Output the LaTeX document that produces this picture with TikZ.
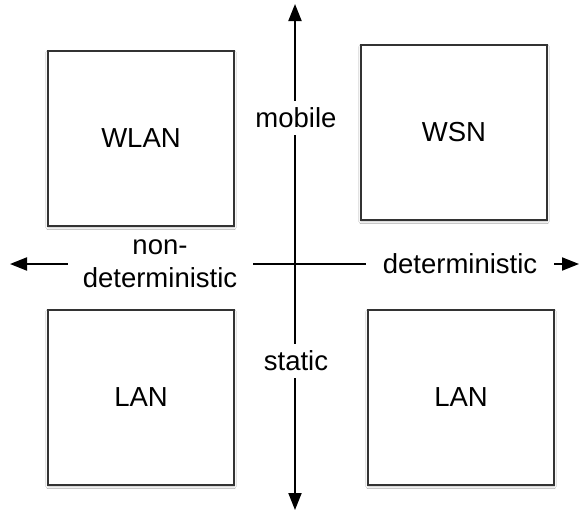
\documentclass[tikz,border=0pt]{standalone}
\usepackage{fontspec}
\setmainfont{Liberation Sans}
\usetikzlibrary{arrows.meta,shadows.blur}
\begin{document}
\begin{tikzpicture}[x=1pt,y=-1pt,
  quad/.style={draw=black!80, line width=2pt, fill=white, minimum width=186pt, minimum height=175pt,
    inner sep=0pt, font=\fontsize{27.5}{32}\selectfont,
    blur shadow={shadow xshift=0pt, shadow yshift=-2pt, shadow blur steps=6, shadow opacity=25}},
  axis/.style={line width=2pt, -{Triangle[length=17pt,width=13pt]}},
  axlabel/.style={fill=white, font=\fontsize{27.5}{33}\selectfont, align=center, inner sep=0pt}]
  \useasboundingbox (0,0) rectangle (580,512);
  \fill[white] (0,0) rectangle (580,512);
  % quadrant boxes
  \node[quad] (wlan) at (141,138) {WLAN};
  \node[quad] (wsn) at (454,132) {WSN};
  \node[quad] (lanl) at (141,397) {LAN};
  \node[quad] (lanr) at (461,397) {LAN};
  % axis ends
  \coordinate (origin) at (295,264);
  \coordinate (top) at (295,4);
  \coordinate (bottom) at (295,510);
  \coordinate (west) at (10,264);
  \coordinate (east) at (579,264);
  \draw[axis] (origin) -- (top);
  \draw[axis] (origin) -- (bottom);
  \draw[axis] (origin) -- (west);
  \draw[axis] (origin) -- (east);
  % axis labels
  \node[axlabel, minimum height=34pt, minimum width=86pt] (mobile) at (296,118) {mobile};
  \node[axlabel, minimum height=34pt, minimum width=72pt] (static) at (296,361) {static};
  \node[axlabel, minimum width=185pt, minimum height=62pt] (nondet) at (160,264) {non-\\deterministic};
  \node[axlabel, minimum width=188pt, minimum height=34pt] (det) at (460,264) {deterministic};
\end{tikzpicture}
\end{document}
